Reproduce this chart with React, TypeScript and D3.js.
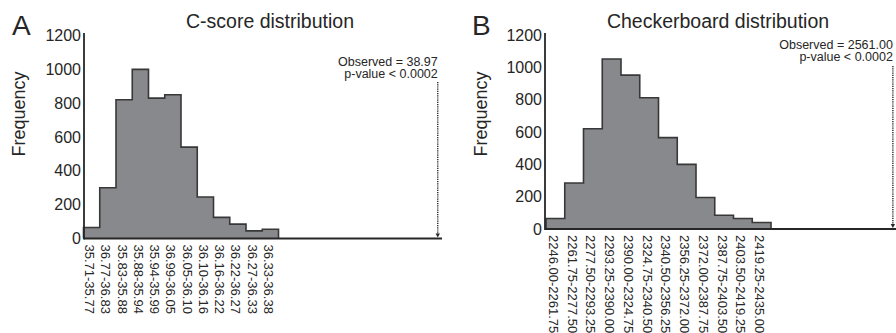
import React from "react"
import * as d3 from "d3"

// ── Data ───────────────────────────────────────────────────────────────────────

const cLabels = [
  "35.71-35.77", "36.77-36.83", "35.83-35.88", "35.88-35.94",
  "35.94-35.99", "36.99-36.05", "36.05-36.10", "36.10-36.16",
  "36.16-36.22", "36.22-36.27", "36.27-36.33", "36.33-36.38",
]
const cCounts = [65, 300, 820, 1000, 830, 850, 540, 245, 125, 85, 45, 55]

const bLabels = [
  "2246.00-2261.75", "2261.75-2277.50", "2277.50-2293.25", "2293.25-2390.00",
  "2390.00-2324.75", "2324.75-2340.50", "2340.50-2356.25", "2356.25-2372.00",
  "2372.00-2387.75", "2387.75-2403.50", "2403.50-2419.25", "2419.25-2435.00",
]
const bCounts = [65, 285, 620, 1052, 952, 812, 565, 400, 195, 85, 65, 40]

const yTicks = [0, 200, 400, 600, 800, 1000, 1200]

// ── Panel ──────────────────────────────────────────────────────────────────────

const FONT = "'Liberation Sans', Arial, Helvetica, sans-serif"
const INK = "#262626"

type PanelProps = {
  letter: string
  letterX: number
  title: string
  titleX: number
  labels: string[]
  counts: number[]
  observed: string
  axisX: number
  x0: number
  binW: number
  axisEnd: number
  y0: number
  y1200: number
  obsPos: number
  obsTextY: number
  obsLineTop: number
  freqX: number
}

function Panel(p: PanelProps) {
  const n = p.counts.length
  const x = d3.scaleLinear().domain([0, n]).range([p.x0, p.x0 + n * p.binW])
  const y = d3.scaleLinear().domain([0, 1200]).range([p.y0, p.y1200])

  // step outline of the histogram
  const pts: [number, number][] = [[x(0), y(0)]]
  p.counts.forEach((c, i) => {
    pts.push([x(i), y(c)])
    pts.push([x(i + 1), y(c)])
  })
  pts.push([x(n), y(0)])
  const outline = d3.line()(pts) as string
  const area = outline + "Z"

  const obsX = x(p.obsPos)

  return (
    <g fontFamily={FONT} fill={INK}>
      <text x={p.letterX} y={35} fontSize={28}>{p.letter}</text>
      <text x={p.titleX} y={28} fontSize={19.5} textAnchor="middle">{p.title}</text>
      <text
        transform={`translate(${p.freqX},114) rotate(-90)`}
        fontSize={18}
        textAnchor="middle"
      >
        Frequency
      </text>

      {/* histogram */}
      <path d={area} fill="#88898d" stroke="none" />
      <path d={outline} fill="none" stroke="#383838" strokeWidth={1.6} />

      {/* axes */}
      <line x1={p.axisX} x2={p.axisX} y1={33} y2={p.y0 + 1} stroke={INK} strokeWidth={1.8} />
      <line x1={p.axisX} x2={p.axisEnd} y1={p.y0} y2={p.y0} stroke={INK} strokeWidth={1.8} />

      {yTicks.map(t => (
        <text
          key={t}
          x={p.axisX - 3}
          y={y(t)}
          fontSize={16}
          textAnchor="end"
          dominantBaseline="central"
        >
          {t}
        </text>
      ))}

      {p.labels.map((l, i) => (
        <text
          key={l + i}
          transform={`translate(${x(i + 0.5) - 2},${p.y0 + 6}) rotate(90)`}
          fontSize={13}
          dominantBaseline="central"
        >
          {l}
        </text>
      ))}

      {/* observed marker */}
      <text x={obsX} y={p.obsTextY} fontSize={12.5} textAnchor="end">
        Observed = {p.observed}
      </text>
      <text x={obsX} y={p.obsTextY + 12} fontSize={12.5} textAnchor="end">
        p-value &lt; 0.0002
      </text>
      <line
        x1={obsX}
        x2={obsX}
        y1={p.obsLineTop}
        y2={p.y0 - 3}
        stroke={INK}
        strokeWidth={1.4}
        strokeDasharray="1.2 1"
      />
      <path
        d={`M${obsX - 2.2},${p.y0 - 5}L${obsX + 2.2},${p.y0 - 5}L${obsX},${p.y0 - 1}Z`}
        fill={INK}
      />
    </g>
  )
}

export default function App() {
  return (
    <svg
      width={896}
      height={333}
      style={{ position: "absolute", left: 0, top: 0, background: "#fff" }}
    >
      <Panel
        letter="A"
        letterX={12}
        title="C-score distribution"
        titleX={270}
        labels={cLabels}
        counts={cCounts}
        observed="38.97"
        axisX={84}
        x0={83.5}
        binW={16.25}
        axisEnd={442}
        y0={238.5}
        y1200={35.5}
        obsPos={21.8}
        obsTextY={66}
        obsLineTop={82}
        freqX={25}
      />
      <Panel
        letter="B"
        letterX={472}
        title="Checkerboard distribution"
        titleX={718}
        labels={bLabels}
        counts={bCounts}
        observed="2561.00"
        axisX={545}
        x0={546}
        binW={18.75}
        axisEnd={896}
        y0={229}
        y1200={35}
        obsPos={18.5}
        obsTextY={49}
        obsLineTop={66}
        freqX={487}
      />
    </svg>
  )
}
